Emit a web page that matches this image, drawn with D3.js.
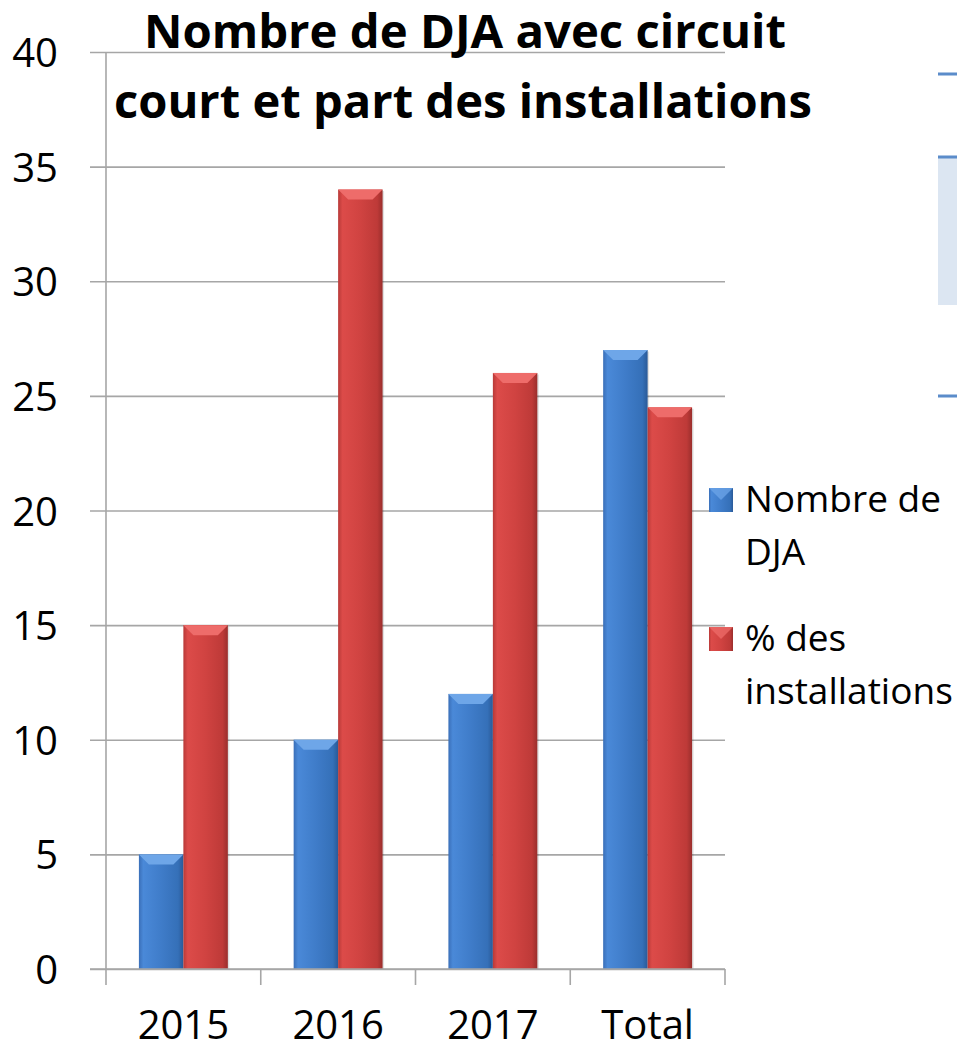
<!DOCTYPE html>
<html><head><meta charset="utf-8">
<script src="https://cdn.jsdelivr.net/npm/d3@7/dist/d3.min.js"></script>
<style>body{margin:0;background:#fff;}svg{display:block;}</style>
</head><body>
<script>
const categories = ["2015","2016","2017","Total"];
const nombreDJA = [5,10,12,27];
const pctInstallations = [15,34,26,24.5];
const seriesNames = ["Nombre de DJA","% des installations"];
const yTicks = [0,5,10,15,20,25,30,35,40];
const titleLines = ["Nombre de DJA avec circuit","court et part des installations"];

const W=957,H=1050;
const svg=d3.select("body").append("svg").attr("width",W).attr("height",H);
const font="'Open Sans', sans-serif";
const defs=svg.append("defs");
function grad(id,stops){
  const g=defs.append("linearGradient").attr("id",id).attr("x1","0").attr("x2","1").attr("y1","0").attr("y2","0");
  stops.forEach(s=>g.append("stop").attr("offset",s[0]).attr("stop-color",s[1]));
}
grad("gBlue",[[0,"#3a6fb8"],[0.1,"#4a89d8"],[0.5,"#3f7cc9"],[0.88,"#3570b8"],[1,"#2a5a98"]]);
grad("gRed",[[0,"#b83a38"],[0.1,"#dc4b49"],[0.5,"#d04341"],[0.88,"#be3a38"],[1,"#9a2e2c"]]);

// decorative top-right fragments
svg.append("rect").attr("x",938).attr("y",157).attr("width",19).attr("height",148).attr("fill","#dce6f2");
[74,157,396].forEach(y=>svg.append("rect").attr("x",938).attr("y",y-1.5).attr("width",19).attr("height",3).attr("fill","#5b8cca"));

const x0=d3.scaleBand().domain(categories).range([106,725]).paddingInner(0).paddingOuter(0);
const x1=d3.scaleBand().domain([0,1]).range([0,x0.bandwidth()]).paddingInner(0).paddingOuter(0.74);
const y=d3.scaleLinear().domain([0,40]).range([969,52]);

// gridlines
const gy=svg.append("g").attr("transform","translate(106,0)")
  .call(d3.axisLeft(y).tickValues(yTicks).tickSize(-619).tickSizeOuter(0).tickFormat(""));
gy.select(".domain").remove();
gy.selectAll(".tick line").attr("stroke","#a6a6a6").attr("stroke-width",1.6).attr("x1",-16);
svg.append("line").attr("x1",106).attr("x2",106).attr("y1",52).attr("y2",969).attr("stroke","#a6a6a6").attr("stroke-width",1.6);
svg.append("g").selectAll("text").data(yTicks).join("text")
  .attr("x",58).attr("y",d=>y(d)+15).attr("text-anchor","end")
  .attr("font-family",font).attr("font-size",40).attr("fill","#000").text(d=>d);

// bars
const data=categories.map((c,i)=>({c,v:[nombreDJA[i],pctInstallations[i]]}));
const fills=["url(#gBlue)","url(#gRed)"];
const tops=["#6ea6e8","#ee6c6a"];
data.forEach(d=>{
  d.v.forEach((v,k)=>{
    const bx=x0(d.c)+x1(k), bw=x1.bandwidth(), by=y(v), bh=y(0)-y(v);
    const g=svg.append("g");
    g.append("rect").attr("x",bx+1.5).attr("y",by+1.5).attr("width",bw).attr("height",bh-1.5).attr("fill","rgba(0,0,0,0.12)");
    g.append("rect").attr("x",bx).attr("y",by).attr("width",bw).attr("height",bh).attr("fill",fills[k]);
    const b=10;
    g.append("polygon").attr("points",[[bx,by],[bx+bw,by],[bx+bw-b,by+b],[bx+b,by+b]].map(p=>p.join(",")).join(" ")).attr("fill",tops[k]);
  });
});

// x axis
svg.append("line").attr("x1",90).attr("x2",725).attr("y1",969).attr("y2",969).attr("stroke","#a6a6a6").attr("stroke-width",1.6);
const bounds=categories.map(c=>x0(c)).concat([725]);
svg.append("g").selectAll("line").data(bounds).join("line")
  .attr("x1",d=>d).attr("x2",d=>d).attr("y1",969).attr("y2",985).attr("stroke","#a6a6a6").attr("stroke-width",1.6);
svg.append("g").selectAll("text").data(categories).join("text")
  .attr("x",d=>x0(d)+x0.bandwidth()/2).attr("y",1039).attr("text-anchor","middle")
  .attr("font-family",font).attr("font-size",40).attr("fill","#000").text(d=>d);

// title
const tl=[{x:144,y:48,len:642},{x:114,y:118,len:698}];
titleLines.forEach((t,i)=>{
  svg.append("text").attr("x",tl[i].x).attr("y",tl[i].y)
    .attr("font-family",font).attr("font-weight","bold").attr("font-size",46).attr("fill","#000")
    .attr("textLength",tl[i].len).attr("lengthAdjust","spacingAndGlyphs").text(t);
});

// legend
const leg=[{n:["Nombre de","DJA"],y:512,k:0},{n:["% des","installations"],y:651,k:1}];
leg.forEach(l=>{
  svg.append("rect").attr("x",709).attr("y",l.y-24).attr("width",24).attr("height",24).attr("fill",fills[l.k]);
  svg.append("polygon").attr("points",`709,${l.y-24} 733,${l.y-24} 721,${l.y-12}`).attr("fill",tops[l.k]).attr("opacity",0.75);
  const t=svg.append("text").attr("font-family",font).attr("font-size",37).attr("fill","#000");
  t.append("tspan").attr("x",745).attr("y",l.y).text(l.n[0]);
  t.append("tspan").attr("x",745).attr("y",l.y+53).text(l.n[1]);
});
</script>
</body></html>
